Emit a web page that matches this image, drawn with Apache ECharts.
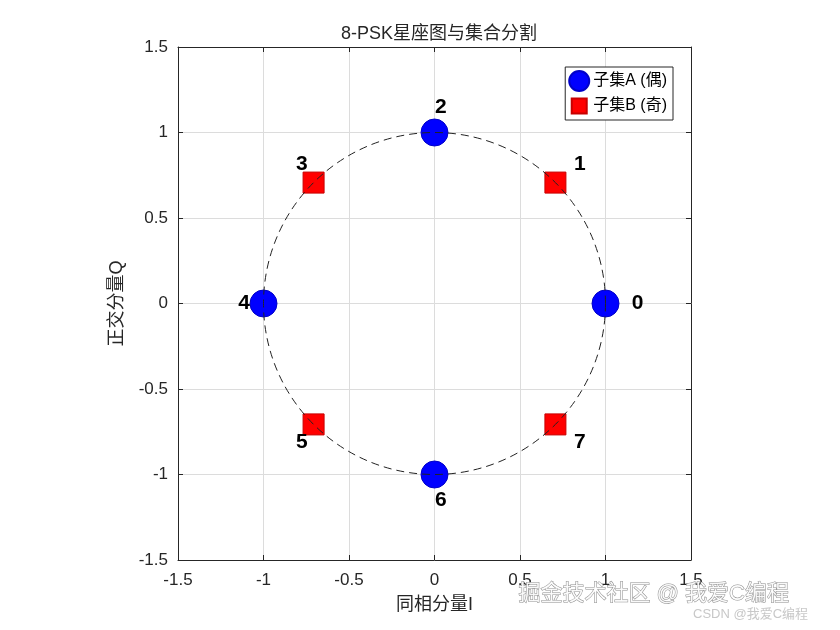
<!DOCTYPE html>
<html>
<head>
<meta charset="utf-8">
<title>8-PSK星座图与集合分割</title>
<script src="https://cdn.jsdelivr.net/npm/echarts@6/dist/echarts.min.js"></script>
<style>
  html, body { margin: 0; padding: 0; background: #fff; }
  #chart { width: 840px; height: 630px; }
</style>
</head>
<body>
<div id="chart"></div>
<script>
// 星座点数据（8-PSK，单位圆）
const subsetA_I = [1, 0, -1, 0];           // 偶数符号 0,2,4,6
const subsetA_Q = [0, 1, 0, -1];
const subsetB_I = [0.7071, -0.7071, -0.7071, 0.7071];  // 奇数符号 1,3,5,7
const subsetB_Q = [0.7071, 0.7071, -0.7071, -0.7071];

// 符号编号及其标注位置（半径约 1.15）
const symbolLabels = ['0', '1', '2', '3', '4', '5', '6', '7'];
const labelI = [1.15, 0.813, 0, -0.813, -1.15, -0.813, 0, 0.813];
const labelQ = [0, 0.813, 1.15, 0.813, 0, -0.813, -1.15, -0.813];

// 刻度
const axisMin = -1.5;
const axisMax = 1.5;
const tickStep = 0.5;

const textColor = '#262626';
const font = 'Arial, "Liberation Sans", "Noto Sans CJK SC", sans-serif';

function pairs(xs, ys) {
    return xs.map((x, i) => [x, ys[i]]);
}

function fmtTick(v) {
    return String(Math.round(v * 10) / 10);
}

const chart = echarts.init(document.getElementById('chart'));

const axisCommon = {
    type: 'value',
    min: axisMin,
    max: axisMax,
    interval: tickStep,
    axisLine: { show: true, onZero: false, lineStyle: { color: textColor, width: 1 } },
    axisTick: { show: true, inside: true, length: 5, lineStyle: { color: textColor } },
    splitLine: { show: true, lineStyle: { color: '#dcdcdc', width: 1 } },
    axisLabel: { color: textColor, fontSize: 17, fontFamily: font, formatter: fmtTick },
    nameTextStyle: { color: textColor, fontSize: 18, fontFamily: font }
};

const option = {
    backgroundColor: '#fff',
    animation: false,
    title: {
        text: '8-PSK星座图与集合分割',
        left: 434,
        textAlign: 'center',
        top: 20,
        textStyle: { color: textColor, fontSize: 18, fontWeight: 'normal', fontFamily: font }
    },
    legend: {
        orient: 'vertical',
        right: 167,
        top: 67,
        padding: [3, 6, 3, 3],
        itemGap: 3,
        itemWidth: 24,
        itemHeight: 20,
        backgroundColor: '#fff',
        borderColor: '#262626',
        borderWidth: 1,
        borderRadius: 0,
        textStyle: { color: '#000', fontSize: 16, fontFamily: font, padding: [0, 0, 0, -3] },
        data: [
            { name: '子集A (偶)', icon: 'circle' },
            { name: '子集B (奇)', icon: 'path://M0,0 M20,20 M2.5,2.5 L17.5,2.5 L17.5,17.5 L2.5,17.5 Z' }
        ]
    },
    grid: { left: 178, top: 47, width: 513, height: 513, containLabel: false },
    xAxis: [
        Object.assign({}, axisCommon, {
            position: 'bottom',
            name: '同相分量I',
            nameLocation: 'middle',
            nameGap: 36,
            axisLabel: Object.assign({}, axisCommon.axisLabel, { margin: 12 })
        }),
        Object.assign({}, axisCommon, {
            position: 'top',
            axisLabel: { show: false },
            splitLine: { show: false }
        })
    ],
    yAxis: [
        Object.assign({}, axisCommon, {
            position: 'left',
            name: '正交分量Q',
            nameLocation: 'middle',
            nameGap: 52,
            axisLabel: Object.assign({}, axisCommon.axisLabel, { margin: 10 })
        }),
        Object.assign({}, axisCommon, {
            position: 'right',
            axisLabel: { show: false },
            splitLine: { show: false }
        })
    ],
    series: [
        {
            name: '子集A (偶)',
            type: 'scatter',
            symbol: 'circle',
            symbolSize: 27,
            itemStyle: { color: '#0000ff', borderColor: '#0000c8', borderWidth: 1, opacity: 1 },
            data: pairs(subsetA_I, subsetA_Q),
            z: 3
        },
        {
            name: '子集B (奇)',
            type: 'scatter',
            symbol: 'rect',
            symbolSize: 21,
            itemStyle: { color: '#ff0000', borderColor: '#c80000', borderWidth: 1, opacity: 1 },
            data: pairs(subsetB_I, subsetB_Q),
            z: 3
        },
        {
            name: 'labels',
            type: 'scatter',
            symbolSize: 1,
            itemStyle: { color: 'rgba(255,255,255,0)' },
            silent: true,
            data: pairs(labelI, labelQ).map((p, i) => ({ value: p, label: { formatter: symbolLabels[i] } })),
            label: {
                show: true,
                position: 'right',
                distance: 0,
                align: 'left',
                verticalAlign: 'middle',
                color: '#000',
                textBorderWidth: 0,
                opacity: 1,
                fontSize: 21,
                fontWeight: 'bold',
                fontFamily: font
            },
            z: 5
        }
    ]
};

chart.setOption(option);

// 单位圆（虚线），由坐标系换算到像素
function drawCircle() {
    const c = chart.convertToPixel({ gridIndex: 0 }, [0, 0]);
    const e = chart.convertToPixel({ gridIndex: 0 }, [1, 0]);
    const r = e[0] - c[0];
    chart.setOption({
        graphic: [
            {
                type: 'circle',
                id: 'unit',
                shape: { cx: c[0], cy: c[1], r: r },
                style: { fill: 'none', stroke: '#222', lineWidth: 1, lineDash: [8, 5] },
                silent: true,
                z: 4
            },
            {
                type: 'text',
                id: 'wm1',
                left: 518,
                top: 582,
                style: { text: '掘金技术社区 @ 我爱C编程', fill: 'rgba(255,255,255,0.9)', stroke: 'rgba(90,90,90,0.7)', lineWidth: 1, fontSize: 22, fontFamily: font },
                silent: true,
                z: 10
            },
            {
                type: 'text',
                id: 'wm2',
                left: 693,
                top: 608,
                style: { text: 'CSDN @我爱C编程', fill: '#c8c8c8', fontSize: 13, fontFamily: font },
                silent: true,
                z: 10
            }
        ]
    });
}

drawCircle();
</script>
</body>
</html>
